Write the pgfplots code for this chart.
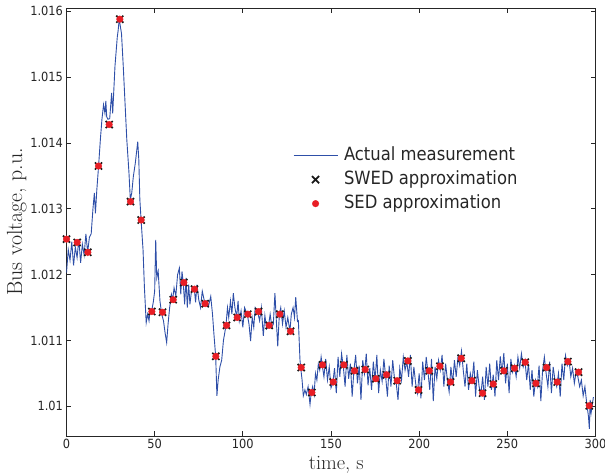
\documentclass[border=0pt]{standalone}
\usepackage{fontspec}
\usepackage{pgfplots}
\usepackage{pgfplotstable}
\pgfplotsset{compat=1.18}
\newfontfamily\dv[FakeStretch=0.9]{DejaVu Sans}
\definecolor{measblue}{HTML}{2E4FA8}
\definecolor{sedred}{HTML}{E81E25}
\pgfplotsset{
  linelegend/.style={legend image code/.code={\draw[##1] (0bp,0bp) -- (44bp,0bp);}},
  marklegend/.style={legend image code/.code={\draw[mark repeat=2,mark phase=2,##1] plot coordinates {(0bp,0bp) (22bp,0bp) (44bp,0bp)};}},
}

% measured bus voltage
\pgfplotstableread{
t v
0 1.01203
1 1.01238
2 1.01222
3 1.01250
4 1.01214
5 1.01242
6 1.01226
7 1.01254
8 1.01218
9 1.01246
10 1.01230
11 1.01262
12 1.01234
13 1.01257
14 1.01262
15 1.01300
15.8 1.01324
16.4 1.01293
17.2 1.01329
18.2 1.01365
19.2 1.01405
20.1 1.01436
21 1.01458
21.8 1.01445
22.3 1.01464
22.8 1.01440
23.5 1.01436
24.5 1.01437
25.6 1.01476
26.2 1.01445
27.5 1.01517
28.8 1.01561
29.3 1.01571
29.9 1.01588
31.2 1.01566
32.2 1.01516
34.2 1.01405
35.4 1.01356
36.2 1.01314
37 1.01324
37.9 1.01349
39 1.01369
40.4 1.01402
41 1.01375
41.6 1.01314
42.3 1.01283
43.4 1.01238
44.2 1.01180
45.2 1.01127
46 1.01140
46.8 1.01130
47.5 1.01148
48.3 1.01145
49.2 1.01158
50 1.01175
50.6 1.01253
51.2 1.01195
52 1.01205
53 1.01160
54 1.01140
55 1.01130
56 1.01110
56.8 1.01097
57.6 1.01125
58.5 1.01150
59.5 1.01170
60.2 1.01162
61 1.01180
62 1.01168
63 1.01200
64 1.01210
64.8 1.01170
65.5 1.01205
66.2 1.01188
67 1.01155
67.8 1.01195
68.5 1.01150
69.3 1.01185
70 1.01155
71 1.01178
72.5 1.01178
73.2 1.01158
74 1.01185
75 1.01162
76 1.01150
77 1.01175
78.5 1.01156
79.5 1.01160
80.5 1.01152
81.8 1.01167
82.8 1.01140
83.6 1.01110
84.6 1.01076
85.3 1.01016
86 1.01040
87 1.01060
88 1.01070
89 1.01100
90.4 1.01122
91.3 1.01150
92 1.01135
93 1.01160
93.8 1.01140
94.6 1.01172
95.5 1.01150
96.5 1.01136
97.3 1.01160
98 1.01130
99 1.01145
100 1.01120
101 1.01150
102.5 1.01140
103.5 1.01125
104.4 1.01099
105.3 1.01135
106.2 1.01120
107 1.01150
108.4 1.01144
109.5 1.01130
110.5 1.01150
111.6 1.01107
112.5 1.01138
113.5 1.01118
114.6 1.01123
115.5 1.01140
116.5 1.01120
117.3 1.01125
118.2 1.01172
119 1.01130
119.8 1.01091
120.7 1.01140
121.5 1.01150
122.5 1.01125
123.5 1.01145
124.5 1.01120
125.5 1.01135
126.7 1.01114
127.5 1.01140
128.5 1.01150
129.3 1.01135
130 1.01166
131 1.01129
131.5 1.01130
132.4 1.01071
132.8 1.01059
133.6 1.01040
134.3 1.01016
135.2 1.01025
136 1.01018
137 1.01030
138.1 1.01003
138.8 1.01021
139.6 1.01030
140.4 1.01018
141.2 1.01050
142 1.01040
142.8 1.01064
143.6 1.01055
144.4 1.01075
145 1.01063
146 1.01045
147 1.01072
148 1.01040
149 1.01060
150 1.01028
151 1.01035
152 1.01058
153 1.01020
154 1.01075
155 1.01045
156 1.01080
157 1.01060
158 1.01030
159 1.01078
160 1.01042
161 1.01065
162 1.01015
163 1.01055
164 1.01078
165 1.01035
166 1.01062
167 1.01010
168 1.01070
169 1.01050
170 1.01080
171 1.01032
172 1.01058
173 1.01025
174 1.01068
175 1.01040
176 1.01078
177 1.01020
178 1.01055
179 1.01038
180 1.01072
181 1.01045
182 1.01015
183 1.01062
184 1.01030
185 1.01070
186 1.01042
187 1.01035
188 1.01010
189 1.01058
190 1.01040
191 1.01075
192 1.01055
193 1.01068
194 1.01045
195 1.01078
196 1.01030
197 1.01060
198 1.01035
199 1.01020
200 1.01050
201 1.01012
202 1.01068
203 1.01040
204 1.01075
205 1.01052
206 1.01025
207 1.01072
208 1.01008
209 1.01060
210 1.01042
211 1.01070
212 1.01055
213 1.01078
214 1.01030
215 1.01065
216 1.01040
217 1.01022
218 1.01060
219 1.01035
220 1.01070
221 1.01045
222 1.01075
223 1.01062
224 1.01084
225 1.01055
226 1.01030
227 1.01065
228 1.01025
229 1.01050
230 1.01038
231 1.01068
232 1.01015
233 1.01055
234 1.01030
235 1.01018
236 1.01045
237 1.01010
238 1.01060
239 1.01030
240 1.01065
241 1.01025
242 1.01048
243 1.01015
244 1.01070
245 1.01040
246 1.01076
247 1.01050
248 1.01081
249 1.01035
250 1.01065
251 1.01020
252 1.01072
253 1.01052
254 1.01062
255 1.01045
256 1.01075
257 1.01058
258 1.01080
259 1.01060
260 1.01070
261 1.01040
262 1.01065
263 1.01025
264 1.01055
265 1.01015
266 1.01040
267 1.01030
268 1.01062
269 1.01008
270 1.01055
271 1.01075
272 1.01050
273 1.01030
274 1.01068
275 1.01020
276 1.01060
277 1.01040
278 1.01030
279 1.01050
280 1.01015
281 1.01065
282 1.01040
283 1.01077
284 1.01062
285 1.01070
286 1.01045
287 1.01058
288 1.01035
289 1.01052
290 1.01045
291 1.01030
292 1.01040
293 1.01016
294 1.01030
295 1.01005
296 1.00985
296.5 1.00966
297 1.01010
297.5 1.00990
298.8 1.01014
}\meas

% approximation points (SWED and SED coincide)
\pgfplotstableread{
t v
0 1.01254
6.05 1.01249
12.1 1.01234
18.15 1.01365
24.2 1.01428
30.25 1.01588
36.3 1.01311
42.35 1.01283
48.4 1.01144
54.45 1.01143
60.5 1.01162
66.55 1.01188
72.6 1.01178
78.65 1.01156
84.7 1.01076
90.75 1.01123
96.8 1.01135
102.85 1.01140
108.9 1.01144
114.95 1.01123
121 1.01140
127.05 1.01114
133.1 1.01059
139.15 1.01021
145.2 1.01063
151.25 1.01037
157.3 1.01063
163.35 1.01054
169.4 1.01056
175.45 1.01042
181.5 1.01048
187.55 1.01039
193.6 1.01069
199.65 1.01025
205.7 1.01054
211.75 1.01061
217.8 1.01037
223.85 1.01073
229.9 1.01039
235.95 1.01020
242 1.01034
248.05 1.01054
254.1 1.01058
260.15 1.01067
266.2 1.01035
272.25 1.01059
278.3 1.01037
284.35 1.01068
290.4 1.01052
296.45 1.01001
}\approxpts

\begin{document}
\begin{tikzpicture}
\useasboundingbox (-66.5bp,-40bp) rectangle (538.5bp,436bp);
\begin{axis}[
  scale only axis,
  width=529bp,height=428bp,
  xmin=0,xmax=300,ymin=1.00955,ymax=1.01605,
  xtick={0,50,...,300},
  ytick={1.010,1.011,1.012,1.013,1.014,1.015,1.016},
  yticklabels={1.01,1.011,1.012,1.013,1.014,1.015,1.016},
  scaled y ticks=false,
  /pgf/number format/assume math mode=true,
  ticklabel style={font=\dv\fontsize{12.7}{14}\selectfont, text=black!85},
  tick align=inside,
  major tick length=5bp,
  axis line style={line width=0.8bp, black!85},
  every tick/.style={line width=0.8bp, black!85},
  xlabel={time, s},
  ylabel={Bus voltage, p.u.},
  xlabel style={font=\fontsize{20.5}{23}\selectfont, text=black!85,
    at={(ticklabel cs:0.51)}, yshift=0bp},
  ylabel style={font=\fontsize{22}{25}\selectfont, text=black!85, yshift=-3bp},
  legend style={
    draw=none, fill=none, inner sep=0pt,
    at={(axis description cs:0.428,0.676)}, anchor=north west,
    font=\dv\fontsize{18.3}{20}\selectfont,
    nodes={inner sep=0pt, text height=13.5bp, text depth=4bp, text=black!85},
    row sep=6.5bp,
  },
  legend cell align=left,
  /tikz/every odd column/.append style={column sep=6bp},
]
\addplot[color=measblue, line width=0.9bp, no marks, linelegend]
  table[x=t,y=v] {\meas};
\addlegendentry{Actual measurement}
\addplot[only marks, mark=x, mark size=5bp, color=black!90, line width=1.7bp, marklegend]
  table[x=t,y=v] {\approxpts};
\addlegendentry{SWED approximation}
\addplot[only marks, mark=*, mark size=3.3bp, color=sedred, mark options={draw=none, fill=sedred}, marklegend]
  table[x=t,y=v] {\approxpts};
\addlegendentry{SED approximation}
\end{axis}
\end{tikzpicture}
\end{document}
